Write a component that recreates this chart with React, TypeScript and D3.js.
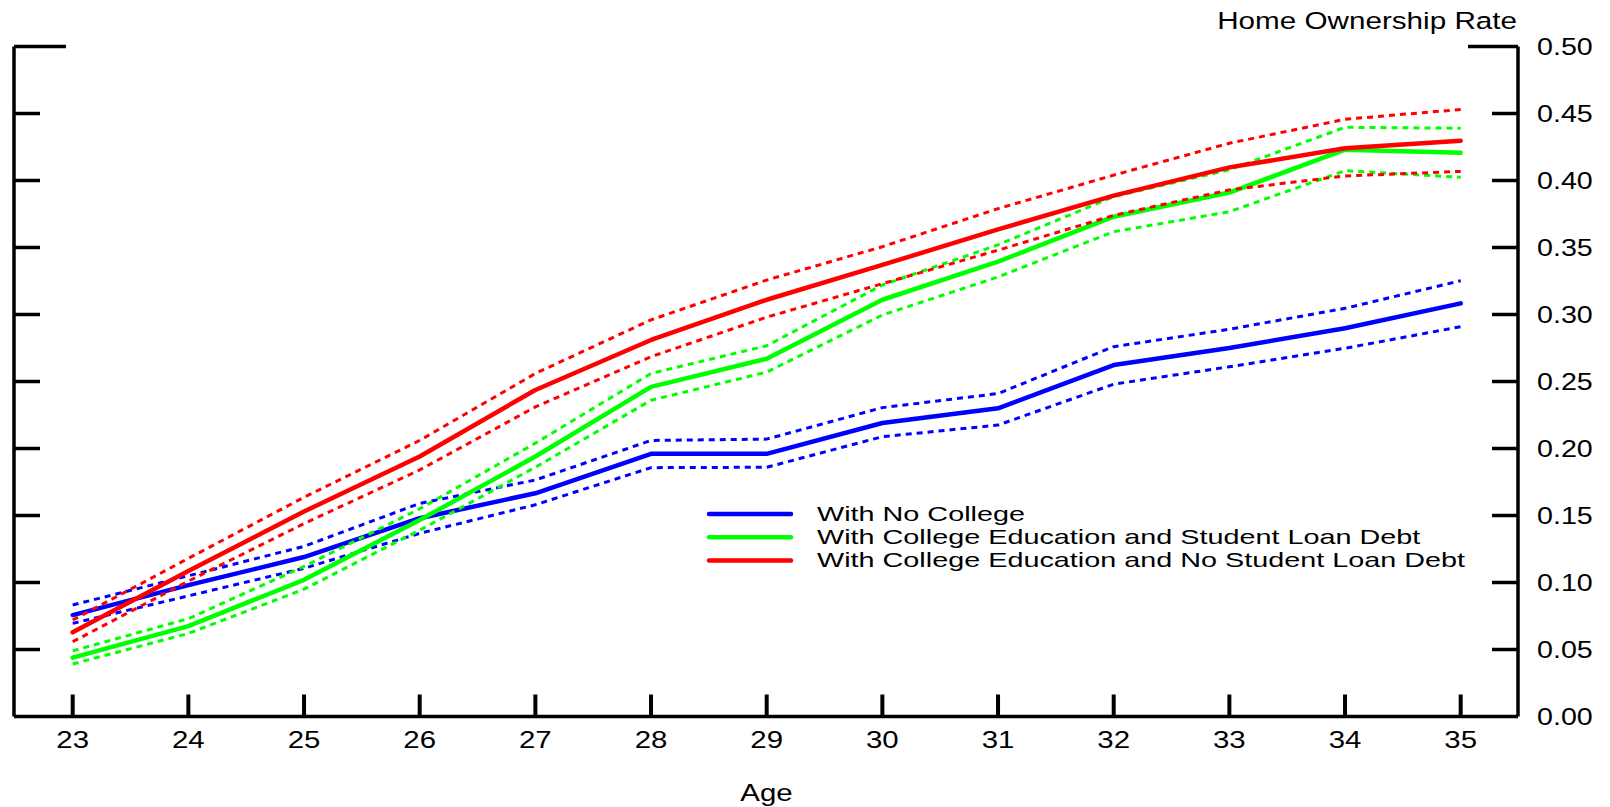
import * as d3 from "d3";

const ages = [23, 24, 25, 26, 27, 28, 29, 30, 31, 32, 33, 34, 35];
const yTickValues = [0, 0.05, 0.1, 0.15, 0.2, 0.25, 0.3, 0.35, 0.4, 0.45, 0.5];

const noCollege = [0.0757, 0.098, 0.119, 0.148, 0.1666, 0.196, 0.196, 0.219, 0.23, 0.2623, 0.275, 0.2897, 0.3083];
const noCollegeUpper = [0.0832, 0.105, 0.127, 0.159, 0.1765, 0.206, 0.207, 0.2305, 0.241, 0.276, 0.289, 0.3046, 0.3252];
const noCollegeLower = [0.0695, 0.09, 0.1106, 0.1367, 0.158, 0.1857, 0.186, 0.2088, 0.2175, 0.248, 0.261, 0.2748, 0.2909];

const withDebt = [0.0439, 0.0675, 0.102, 0.1466, 0.194, 0.246, 0.267, 0.311, 0.3394, 0.373, 0.391, 0.423, 0.4207];
const withDebtUpper = [0.049, 0.073, 0.112, 0.155, 0.204, 0.256, 0.2767, 0.322, 0.352, 0.388, 0.408, 0.4397, 0.439];
const withDebtLower = [0.0392, 0.062, 0.095, 0.139, 0.186, 0.236, 0.257, 0.2996, 0.328, 0.3618, 0.3767, 0.4073, 0.4024];

const noDebt = [0.0628, 0.1086, 0.153, 0.194, 0.2437, 0.281, 0.311, 0.337, 0.3635, 0.3887, 0.4098, 0.424, 0.4297];
const noDebtUpper = [0.072, 0.118, 0.1636, 0.206, 0.256, 0.296, 0.3257, 0.3506, 0.379, 0.404, 0.4278, 0.4457, 0.453];
const noDebtLower = [0.0558, 0.101, 0.144, 0.184, 0.231, 0.2685, 0.298, 0.323, 0.348, 0.374, 0.393, 0.4034, 0.4068];

const seriesLabels = [
  "With No College",
  "With College Education and Student Loan Debt",
  "With College Education and No Student Loan Debt",
];
const seriesColors = ["#0000ff", "#00ff00", "#ff0000"];

const series = [
  { mid: noCollege, upper: noCollegeUpper, lower: noCollegeLower },
  { mid: withDebt, upper: withDebtUpper, lower: withDebtLower },
  { mid: noDebt, upper: noDebtUpper, lower: noDebtLower },
];

const WIDTH = 1610;
const HEIGHT = 807;
const FONT = "'Liberation Sans', Arial, sans-serif";

export default function App() {
  const plotLeft = 14;
  const plotRight = 1518;

  const xScale = d3.scaleLinear().domain([23, 35]).range([72.7, 1460.7]);
  const yScale = d3.scaleLinear().domain([0, 0.5]).range([716.5, 46.5]);

  const line = d3
    .line<number>()
    .x((_, i) => xScale(ages[i]))
    .y((d) => yScale(d));

  const bottom = yScale(0);
  const top = yScale(0.5);

  return (
    <svg
      width={WIDTH}
      height={HEIGHT}
      style={{ position: "absolute", left: 0, top: 0, background: "#fff" }}
      fontFamily={FONT}
    >
      {/* frame */}
      <g stroke="#000" fill="none" strokeWidth={3.5}>
        <line x1={plotLeft} x2={plotLeft} y1={top} y2={bottom} />
        <line x1={plotRight} x2={plotRight} y1={top} y2={bottom} />
        <line x1={plotLeft} x2={plotRight} y1={bottom} y2={bottom} />
        <line x1={plotLeft} x2={plotLeft + 52} y1={top} y2={top} />
        <line x1={plotRight} x2={plotRight - 50} y1={top} y2={top} />
        {yTickValues
          .filter((v) => v > 0 && v < 0.5)
          .map((v) => (
            <g key={v}>
              <line x1={plotLeft} x2={plotLeft + 26} y1={yScale(v)} y2={yScale(v)} />
              <line x1={plotRight} x2={plotRight - 26} y1={yScale(v)} y2={yScale(v)} />
            </g>
          ))}
        {ages.map((a) => (
          <line key={a} x1={xScale(a)} x2={xScale(a)} y1={bottom} y2={bottom - 22} strokeWidth={4} />
        ))}
      </g>

      {/* y tick labels */}
      {yTickValues.map((v) => (
        <text
          key={v}
          transform={`translate(1537, ${yScale(v) + 8.5}) scale(1.22, 1)`}
          fontSize={23.5}
          fill="#000"
        >
          {d3.format(".2f")(v)}
        </text>
      ))}

      {/* x tick labels */}
      {ages.map((a) => (
        <text
          key={a}
          transform={`translate(${xScale(a)}, 748) scale(1.2, 1)`}
          fontSize={24.5}
          textAnchor="middle"
          fill="#000"
        >
          {a}
        </text>
      ))}

      <text transform="translate(766.5, 801) scale(1.2, 1)" fontSize={24.5} textAnchor="middle" fill="#000">
        Age
      </text>
      <text transform="translate(1517, 29.3) scale(1.21, 1)" fontSize={24.5} textAnchor="end" fill="#000">
        Home Ownership Rate
      </text>

      {/* series */}
      {series.map((s, i) => (
        <g key={seriesLabels[i]} fill="none" stroke={seriesColors[i]}>
          <path d={line(s.upper) || ""} strokeWidth={3} strokeDasharray="6 5" />
          <path d={line(s.lower) || ""} strokeWidth={3} strokeDasharray="6 5" />
          <path d={line(s.mid) || ""} strokeWidth={4.5} strokeLinejoin="round" strokeLinecap="round" />
        </g>
      ))}

      {/* legend */}
      {seriesLabels.map((label, i) => {
        const ly = 514 + i * 23.2;
        return (
          <g key={label}>
            <line x1={709} x2={791} y1={ly} y2={ly} stroke={seriesColors[i]} strokeWidth={4.5} strokeLinecap="round" />
            <text transform={`translate(817, ${ly + 7}) scale(1.44, 1)`} fontSize={20} fill="#000">
              {label}
            </text>
          </g>
        );
      })}
    </svg>
  );
}
